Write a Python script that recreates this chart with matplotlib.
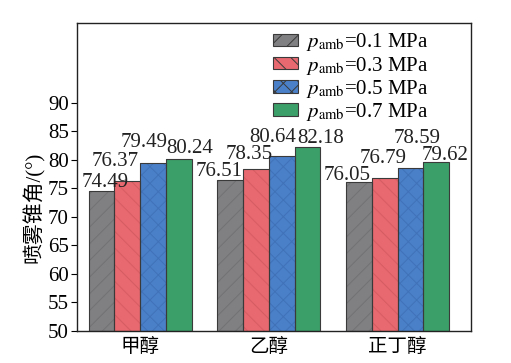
import numpy as np
import matplotlib
matplotlib.use("Agg")
from matplotlib import pyplot as plt
from matplotlib.patches import Patch

# data
fuels = ["甲醇", "乙醇", "正丁醇"]
pressures = ["0.1", "0.3", "0.5", "0.7"]
angle_01 = [74.49, 76.51, 76.05]
angle_03 = [76.37, 78.35, 76.79]
angle_05 = [79.49, 80.64, 78.59]
angle_07 = [80.24, 82.18, 79.62]
series = [angle_01, angle_03, angle_05, angle_07]

# styles
face = ["#808083", "#E8696F", "#4A80C8", "#3A9F68"]
hatch_col = ["#727275", "#d65c63", "#4072b8", "#3A9F68"]
hatches = ["//", "\\\\", "xx", ""]
# label offsets (pixels) relative to bar top-centre, hand tuned to match layout
lbl_off = [
    [(4, 9), (-11, 8), (-12, 7)],
    [(-12, 19), (-7, 15), (-2, 20)],
    [(-9, 20), (-9, 19), (7, 29)],
    [(11, 10), (13, 9), (9, 7)],
]

plt.rcParams["font.family"] = ["Liberation Serif", "Noto Sans CJK SC"]
plt.rcParams["mathtext.fontset"] = "stix"
plt.rcParams["hatch.linewidth"] = 0.7

fig = plt.figure(figsize=(5.11, 3.63), dpi=100)
ax = fig.add_axes([0.1507, 0.0882, 0.771, 0.8485])

x = np.arange(len(fuels))
w = 0.2
for i, vals in enumerate(series):
    pos = x + (i - 1.5) * w
    ax.bar(pos, np.array(vals) - 50, w, bottom=50, color=face[i],
           hatch=hatches[i], edgecolor=hatch_col[i], linewidth=0, zorder=2)
    ax.bar(pos, np.array(vals) - 50, w, bottom=50, fill=False,
           edgecolor="#3a3a3a", linewidth=0.8, zorder=3)
    for j, v in enumerate(vals):
        ax.annotate(f"{v:.2f}", (pos[j], v), xytext=lbl_off[i][j],
                    textcoords="offset pixels", ha="center", va="center",
                    fontsize=15, color="#222222", zorder=4)

handles = [Patch(facecolor=face[i], edgecolor="#3a3a3a", hatch=hatches[i],
                 linewidth=0.8) for i in range(4)]
labels = [r"$p_{\mathrm{amb}}$=" + p + " MPa" for p in pressures]
ax.legend(handles, labels, loc="upper right", frameon=False,
          fontsize=15, handlelength=1.2, handleheight=0.55,
          handletextpad=0.35, labelspacing=0.06,
          borderaxespad=0.0, bbox_to_anchor=(0.912, 1.0))

ax.set_ylim(50, 104)
ax.set_xlim(-0.49, 2.57)
ax.set_yticks(np.arange(50, 91, 5))
ax.set_xticks(x)
ax.set_xticklabels(fuels, fontsize=14)
ax.tick_params(axis="y", labelsize=15, direction="out", length=4, width=0.8, pad=2)
ax.tick_params(axis="x", length=0, pad=5)
for s in ax.spines.values():
    s.set_linewidth(1.0)
    s.set_color("#222222")
ax.set_ylabel("喷雾锥角/(°)", fontsize=15, labelpad=2)
ax.yaxis.set_label_coords(-0.082, 0.40)

fig.savefig("out.png", dpi=100)
